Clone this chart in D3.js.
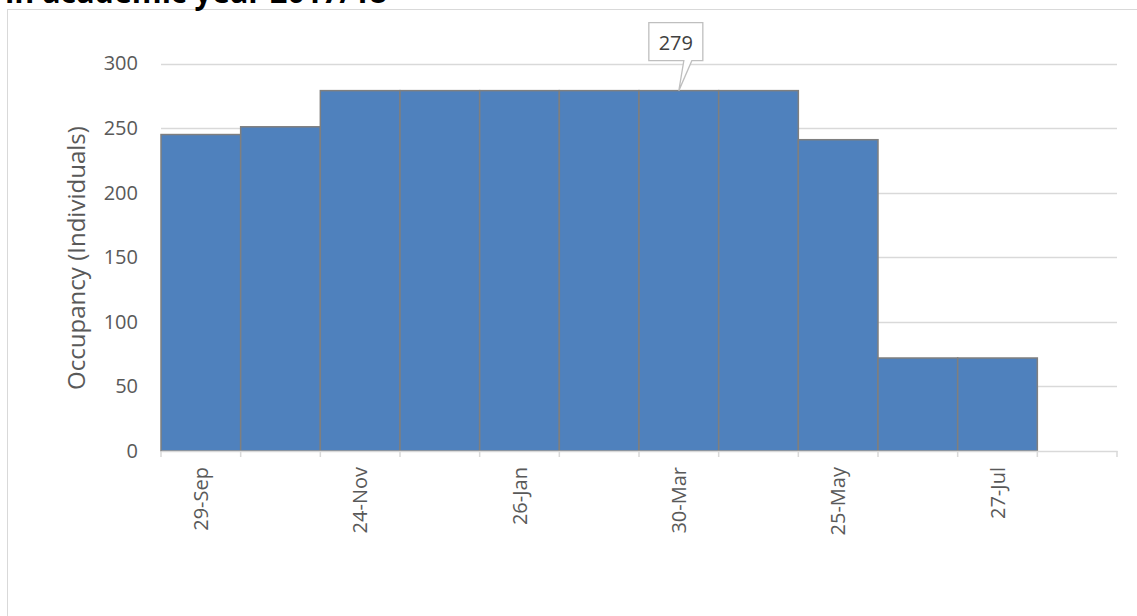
<!DOCTYPE html>
<html>
<head>
<meta charset="utf-8">
<script src="https://cdn.jsdelivr.net/npm/d3@7"></script>
<style>
  html, body { margin: 0; padding: 0; background: #fff; }
  svg { display: block; }
  text { font-family: "Open Sans", "Liberation Sans", Arial, sans-serif; }
</style>
</head>
<body>
<svg id="chart" width="1137" height="616"></svg>
<script>
// ---- data ----
const categories = ["29-Sep", "27-Oct", "24-Nov", "29-Dec", "26-Jan", "23-Feb",
                    "30-Mar", "27-Apr", "25-May", "29-Jun", "27-Jul", "31-Aug"];
const occupancy = [245, 251, 279, 279, 279, 279, 279, 279, 241, 72, 72, null];
const yTicks = [0, 50, 100, 150, 200, 250, 300];
const titleText = "in academic year 2017/18";
const yTitle = "Occupancy (Individuals)";
const calloutIndex = 6;

// ---- layout ----
const FONT = "'Open Sans', 'Liberation Sans', Arial, sans-serif";
const svg = d3.select("#chart");
const plotLeft = 161, plotRight = 1117, plotTop = 63.5, plotBottom = 451;

const x = d3.scaleBand().domain(categories).range([plotLeft, plotRight]).padding(0);
const y = d3.scaleLinear().domain([0, 300]).range([plotBottom, plotTop]);

// chart frame (extends beyond the viewport)
svg.append("rect")
  .attr("x", 7.5).attr("y", 9.5).attr("width", 1200).attr("height", 700)
  .attr("fill", "#fff").attr("stroke", "#d9d9d9").attr("stroke-width", 1);

// title (cut off at top, as in the reference)
svg.append("text")
  .attr("x", 5).attr("y", 3)
  .attr("font-family", "'Liberation Sans', Arial, sans-serif")
  .attr("font-size", 32).attr("font-weight", "bold").attr("fill", "#000")
  .attr("textLength", 382).attr("lengthAdjust", "spacingAndGlyphs")
  .text(titleText);

// gridlines
svg.append("g").selectAll("line")
  .data(yTicks.filter(d => d > 0))
  .join("line")
  .attr("x1", plotLeft).attr("x2", plotRight)
  .attr("y1", d => Math.round(y(d)) + 0.5).attr("y2", d => Math.round(y(d)) + 0.5)
  .attr("stroke", "#d9d9d9").attr("stroke-width", 1.3);

// bars
svg.append("g").selectAll("rect")
  .data(categories.map((c, i) => ({ c, v: occupancy[i] })).filter(d => d.v != null))
  .join("rect")
  .attr("x", d => x(d.c))
  .attr("y", d => y(d.v))
  .attr("width", x.bandwidth())
  .attr("height", d => y(0) - y(d.v))
  .attr("fill", "#4f81bd")
  .attr("stroke", "#7f7f7f")
  .attr("stroke-width", 1.5);

// y axis labels
const yAxis = svg.append("g")
  .attr("transform", `translate(${plotLeft},0)`)
  .call(d3.axisLeft(y).tickValues(yTicks).tickSize(0).tickPadding(23));
yAxis.select(".domain").remove();
yAxis.selectAll("text")
  .attr("font-size", 20).attr("fill", "#595959")
  .attr("font-family", FONT);

// x axis: line + boundary ticks + rotated labels
const xAxis = svg.append("g")
  .attr("transform", `translate(0,${plotBottom})`)
  .call(d3.axisBottom(x).tickSize(0).tickPadding(0)
    .tickFormat((d, i) => i % 2 === 0 ? d : ""));
xAxis.select(".domain")
  .attr("stroke", "#d9d9d9").attr("stroke-width", 1.5);
xAxis.selectAll(".tick text")
  .attr("font-size", 20).attr("fill", "#595959")
  .attr("font-family", FONT)
  .attr("text-anchor", "end")
  .attr("transform", "rotate(-90)")
  .attr("x", -16).attr("y", 0).attr("dy", "0.35em");

const boundaries = categories.map(c => x(c)).concat([x.range()[1]]);
svg.append("g").selectAll("line")
  .data(boundaries)
  .join("line")
  .attr("x1", d => d).attr("x2", d => d)
  .attr("y1", plotBottom).attr("y2", plotBottom + 6)
  .attr("stroke", "#d9d9d9").attr("stroke-width", 1.5);

// y axis title (sized to span ~264px)
const yt = svg.append("text")
  .attr("transform", `translate(85,258) rotate(-90)`)
  .attr("text-anchor", "middle")
  .attr("font-family", FONT)
  .attr("font-size", 24).attr("fill", "#595959")
  .text(yTitle);
const len = yt.node().getComputedTextLength();
if (len > 0) yt.attr("font-size", 24 * 264 / len);

// callout for data point
const cx = x(categories[calloutIndex]) + x.bandwidth() / 2;
const cy = y(occupancy[calloutIndex]);
const bx0 = cx - 30, bx1 = cx + 24, by0 = cy - 68, by1 = cy - 30;
const path = `M${bx0},${by0} L${bx1},${by0} L${bx1},${by1} L${cx + 13},${by1} L${cx},${cy} L${cx + 5},${by1} L${bx0},${by1} Z`;
svg.append("path")
  .attr("d", path)
  .attr("fill", "#fff").attr("stroke", "#bfbfbf").attr("stroke-width", 1.3);
svg.append("text")
  .attr("x", (bx0 + bx1) / 2).attr("y", by1 - 11)
  .attr("text-anchor", "middle")
  .attr("font-family", FONT)
  .attr("font-size", 20).attr("fill", "#404040")
  .text(occupancy[calloutIndex]);
</script>
</body>
</html>
